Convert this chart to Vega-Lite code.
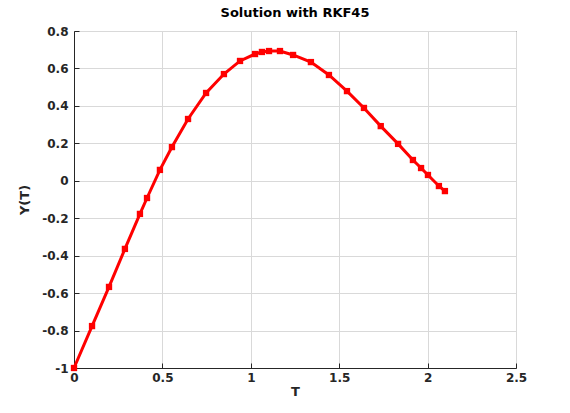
{
"$schema":"https://vega.github.io/schema/vega-lite/v6.json",
"width":442,"height":337,
"autosize":{"type":"none"},
"padding":{"left":74,"top":31,"right":54,"bottom":45},
"background":"white",
"title":{"text":"Solution with RKF45","font":"DejaVu Sans","fontSize":13,"fontWeight":"bold","color":"black","offset":5},
"config":{"view":{"stroke":"#262626","strokeWidth":1},
"axis":{"labelFont":"DejaVu Sans","labelFontSize":12,"labelFontWeight":"bold","labelColor":"#262626","titleFont":"DejaVu Sans","titleFontSize":13,"titleFontWeight":"bold","titleColor":"#262626","gridColor":"#d9d9d9","domainColor":"#262626","tickColor":"#262626","tickSize":-5,"labelPadding":11}},
"data":{"values":[
{"t":0,"y":-1},{"t":0.102,"y":-0.776},{"t":0.198,"y":-0.567},{"t":0.288,"y":-0.364},{"t":0.373,"y":-0.177},{"t":0.413,"y":-0.092},{"t":0.486,"y":0.058},{"t":0.554,"y":0.18},{"t":0.645,"y":0.33},{"t":0.747,"y":0.469},{"t":0.848,"y":0.57},{"t":0.939,"y":0.64},{"t":1.024,"y":0.677},{"t":1.063,"y":0.688},{"t":1.103,"y":0.693},{"t":1.165,"y":0.693},{"t":1.239,"y":0.672},{"t":1.34,"y":0.634},{"t":1.442,"y":0.565},{"t":1.544,"y":0.479},{"t":1.64,"y":0.389},{"t":1.735,"y":0.292},{"t":1.833,"y":0.197},{"t":1.917,"y":0.111},{"t":1.963,"y":0.068},{"t":2.002,"y":0.031},{"t":2.064,"y":-0.028},{"t":2.098,"y":-0.055}
]},
"encoding":{
"x":{"field":"t","type":"quantitative","scale":{"domain":[0,2.5],"nice":false},"axis":{"title":"T","values":[0,0.5,1,1.5,2,2.5],"labelExpr":"replace(format(datum.value,'~g'),'\u2212','-')","labelPadding":9,"titlePadding":2,"labelFlush":false}},
"y":{"field":"y","type":"quantitative","scale":{"domain":[-1,0.8],"nice":false,"zero":false},"axis":{"title":"Y(T)","values":[-1,-0.8,-0.6,-0.4,-0.2,0,0.2,0.4,0.6,0.8],"labelExpr":"replace(format(datum.value,'~g'),'\u2212','-')","labelFlush":false,"titlePadding":10}}
},
"layer":[
{"mark":{"type":"line","color":"#ff0000","strokeWidth":3}},
{"mark":{"type":"point","shape":"square","filled":true,"color":"#ff0000","size":40,"opacity":1}}
]
}
